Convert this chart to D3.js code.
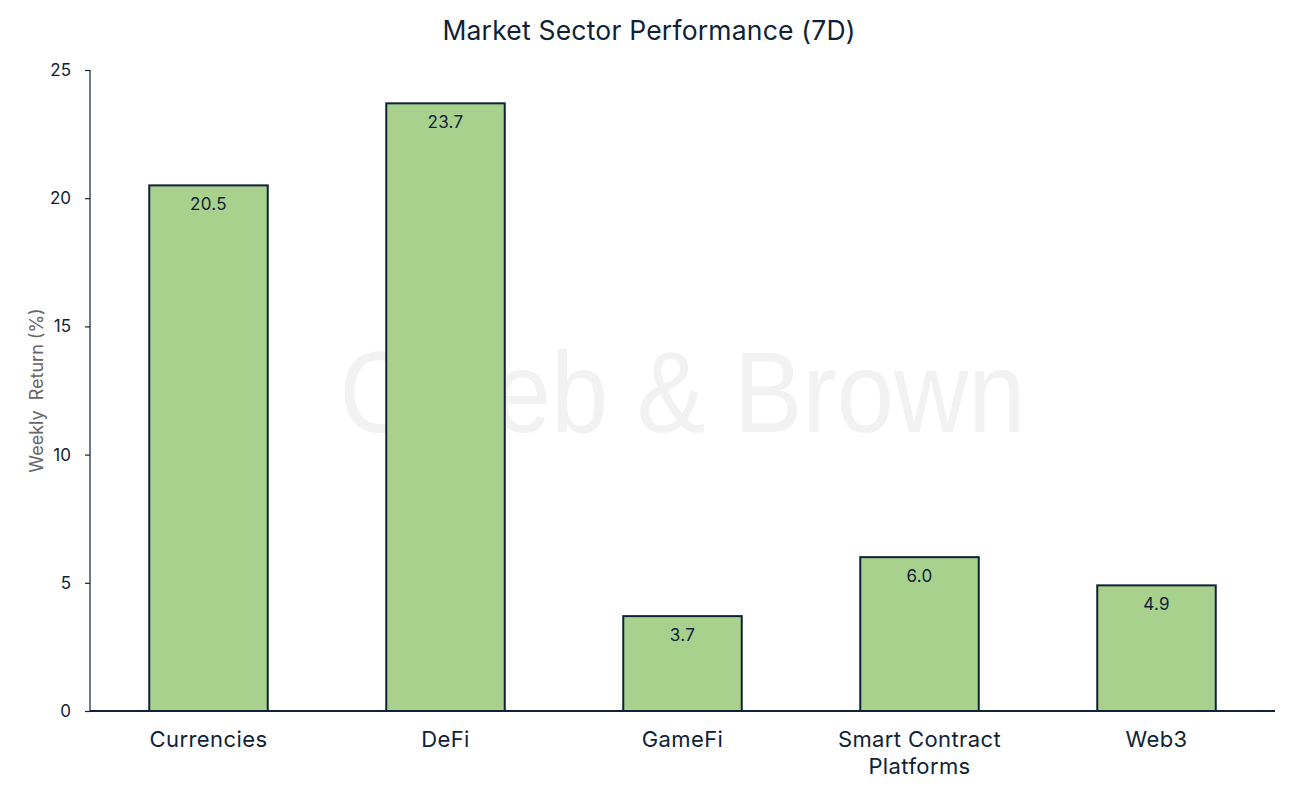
<!DOCTYPE html>
<html>
<head>
<meta charset="utf-8">
<script src="https://cdn.jsdelivr.net/npm/d3@7"></script>
<style>
  body { margin: 0; background: #fff; }
  svg { font-family: Inter, "Noto Sans", sans-serif; }
</style>
</head>
<body>
<svg id="chart" width="1298" height="792"></svg>
<script>
// sectors and 7 day returns
var sectors = ["Currencies", "DeFi", "GameFi", "Smart Contract Platforms", "Web3"];
var returns = [20.5, 23.7, 3.7, 6.0, 4.9];
var yTicks = [0, 5, 10, 15, 20, 25];

var margin = {top: 70, right: 23, bottom: 81, left: 90},
    width = 1298 - margin.left - margin.right,
    height = 792 - margin.top - margin.bottom;

var ink = "#0f2236";

var svg = d3.select("#chart");

var g = svg.append("g")
    .attr("transform", "translate(" + margin.left + "," + margin.top + ")");

var x = d3.scaleBand()
    .domain(sectors)
    .range([0, width])
    .paddingInner(0.5)
    .paddingOuter(0.25);

var y = d3.scaleLinear()
    .domain([0, 25])
    .range([height, 0]);

// watermark
g.append("text")
    .attr("x", width / 2)
    .attr("y", height / 2 + 41)
    .attr("text-anchor", "middle")
    .attr("textLength", 686)
    .attr("lengthAdjust", "spacingAndGlyphs")
    .style("font-family", "'Liberation Sans', Arial, sans-serif")
    .style("font-size", "115px")
    .style("fill", "#f2f2f2")
    .text("Caleb & Brown");

// title
svg.append("text")
    .attr("x", 649)
    .attr("y", 40)
    .attr("text-anchor", "middle")
    .style("font-size", "26.5px")
    .style("letter-spacing", "0.2px")
    .style("fill", ink)
    .text("Market Sector Performance (7D)");

// bars
g.selectAll("rect.bar")
    .data(returns)
    .enter().append("rect")
    .attr("class", "bar")
    .attr("x", function (d, i) { return x(sectors[i]); })
    .attr("y", function (d) { return y(d); })
    .attr("width", x.bandwidth())
    .attr("height", function (d) { return height - y(d); })
    .style("fill", "#a9d18e")
    .style("stroke", ink)
    .style("stroke-width", 2);

// value labels
g.selectAll("text.val")
    .data(returns)
    .enter().append("text")
    .attr("class", "val")
    .attr("x", function (d, i) { return x(sectors[i]) + x.bandwidth() / 2; })
    .attr("y", function (d) { return y(d) + 25; })
    .attr("text-anchor", "middle")
    .style("font-size", "17px")
    .style("letter-spacing", "0.3px")
    .style("fill", ink)
    .text(function (d) { return d.toFixed(1); });

// y axis
var yAxis = g.append("g")
    .call(d3.axisLeft(y).tickValues(yTicks).tickSize(5).tickPadding(14));
yAxis.select(".domain").attr("stroke", ink).attr("stroke-width", 1.2)
    .attr("d", "M0," + height + "V0");
yAxis.selectAll(".tick line").attr("stroke", ink).attr("stroke-width", 1.2);
yAxis.selectAll(".tick text")
    .style("font-size", "17px")
    .style("font-family", "Inter, sans-serif")
    .style("fill", ink);

// x axis
var xAxis = g.append("g")
    .attr("transform", "translate(0," + height + ")")
    .call(d3.axisBottom(x).tickSize(0).tickPadding(0));
xAxis.select(".domain").attr("stroke", ink).attr("stroke-width", 2)
    .attr("d", "M0,0H" + width);
xAxis.selectAll(".tick text").remove();
xAxis.selectAll(".tick").each(function (d) {
    var t = d3.select(this).append("text")
        .attr("text-anchor", "middle")
        .style("font-size", "22px")
        .style("letter-spacing", "0.4px")
        .style("font-family", "Inter, sans-serif")
        .style("fill", ink);
    var lines = d === "Smart Contract Platforms" ? ["Smart Contract", "Platforms"] : [d];
    lines.forEach(function (s, k) {
        t.append("tspan").attr("x", 0).attr("y", 36 + k * 27).text(s);
    });
});

// y label
g.append("text")
    .attr("transform", "translate(-47," + height / 2 + ") rotate(-90)")
    .attr("text-anchor", "middle")
    .style("font-size", "18px")
    .style("fill", "#666")
    .attr("xml:space", "preserve")
    .text("Weekly  Return (%)");
</script>
</body>
</html>
